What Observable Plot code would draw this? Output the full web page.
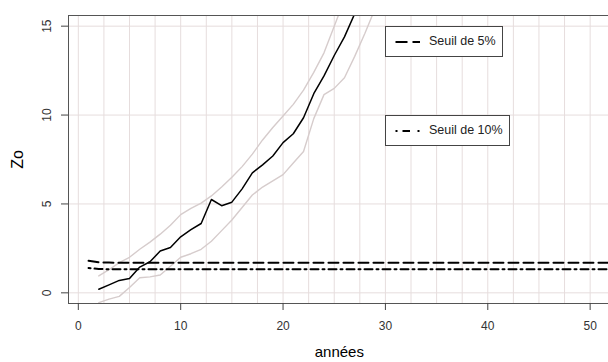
<!DOCTYPE html>
<html><head><meta charset="utf-8">
<script src="https://cdn.jsdelivr.net/npm/d3@7"></script>
<script src="https://cdn.jsdelivr.net/npm/@observablehq/plot@0.6"></script>
<style>
body{margin:0;background:#fff;}
#wrap{position:relative;width:608px;height:362px;overflow:hidden;font-family:"Liberation Sans",Arial,sans-serif;background:#fff;}
#wrap > svg{max-width:none !important;width:631px;height:362px;}
.leg{position:absolute;border:1px solid #444;background:#fff;box-sizing:border-box;font-size:12.5px;color:#222;height:31px;}
.leg svg{position:absolute;left:0;top:0;}
.leg span{position:absolute;top:7px;}
</style></head><body><div id="wrap"></div>
<script>
// Zo statistic (black) and its band (grey), by year
const anneesZo = [2,3,4,5,6,7,8,9,10,11,12,13,14,15,16,17,18,19,20,21,22,23,24,25,26,27,28];
const zo = [0.2,0.45,0.7,0.8,1.45,1.75,2.35,2.55,3.15,3.55,3.9,5.25,4.9,5.1,5.85,6.75,7.2,7.7,8.45,8.95,9.85,11.2,12.2,13.35,14.4,15.7,17.0];
const anneesHaut = [2,3,4,5,6,7,8,9,10,11,12,13,14,15,16,17,18,19,20,21,22,23,24,25,26];
const bandeHaut = [0.95,1.3,1.7,2.0,2.45,2.85,3.3,3.8,4.4,4.75,5.05,5.45,5.95,6.5,7.1,7.8,8.6,9.3,9.95,10.6,11.4,12.4,13.5,15.0,16.5];
const anneesBas = [2,3,4,5,6,7,8,9,10,11,12,13,14,15,16,17,18,19,20,21,22,23,24,25,26,27,28,29,30];
const bandeBas = [-0.55,-0.35,-0.2,0.3,0.85,0.9,1.0,1.5,2.0,2.2,2.45,2.9,3.5,4.1,4.8,5.5,5.95,6.3,6.65,7.3,7.95,9.8,11.15,11.5,12.1,13.3,14.6,16.0,17.2];
// thresholds, years 1..53
const anneesSeuil = [1,2,3,4,5,6,7,8,9,10,11,12,13,14,15,16,17,18,19,20,21,22,23,24,25,26,27,28,29,30,31,32,33,34,35,36,37,38,39,40,41,42,43,44,45,46,47,48,49,50,51,52,53];
const seuil5 = [1.80,1.72,1.70,1.69,1.69,1.69,1.69,1.69,1.69,1.69,1.69,1.69,1.69,1.69,1.69,1.69,1.69,1.69,1.69,1.69,1.69,1.69,1.69,1.69,1.69,1.69,1.69,1.69,1.69,1.69,1.69,1.69,1.69,1.69,1.69,1.69,1.69,1.69,1.69,1.69,1.69,1.69,1.69,1.69,1.69,1.69,1.69,1.69,1.69,1.69,1.69,1.69,1.69];
const seuil10 = [1.40,1.34,1.33,1.33,1.33,1.33,1.33,1.33,1.33,1.33,1.33,1.33,1.33,1.33,1.33,1.33,1.33,1.33,1.33,1.33,1.33,1.33,1.33,1.33,1.33,1.33,1.33,1.33,1.33,1.33,1.33,1.33,1.33,1.33,1.33,1.33,1.33,1.33,1.33,1.33,1.33,1.33,1.33,1.33,1.33,1.33,1.33,1.33,1.33,1.33,1.33,1.33,1.33];
// ticks and grid
const xTicks = [0,10,20,30,40,50];
const yTicks = [0,5,10,15];
const xGrid = [0,2.5,5,7.5,10,12.5,15,17.5,20,22.5,25,27.5,30,32.5,35,37.5,40,42.5,45,47.5,50,52.5];
const yGrid = [0,5,10,15];
const legendes = [
  {label:"Seuil de 5%", x:30, y:15, dash:"12,5", width:118},
  {label:"Seuil de 10%", x:30, y:10, dash:"2,5,7.5,7.5", width:125}
];

const zoData = anneesZo.map((a,i)=>({a, v:zo[i]}));
const hautData = anneesHaut.map((a,i)=>({a, v:bandeHaut[i]}));
const basData = anneesBas.map((a,i)=>({a, v:bandeBas[i]}));
const s5Data = anneesSeuil.map((a,i)=>({a, v:seuil5[i]}));
const s10Data = anneesSeuil.map((a,i)=>({a, v:seuil10[i]}));

const tickFont = {fontSize:12, fill:"#333", fontFamily:"Liberation Sans, Arial, sans-serif"};

const fig = Plot.plot({
  width: 631, height: 362,
  marginLeft: 68, marginRight: 0, marginTop: 15, marginBottom: 59,
  style: {fontFamily: "Liberation Sans, Arial, sans-serif", background: "#fff", overflow: "visible", maxWidth: "none"},
  x: {domain: [-0.96, 54.04], axis: null},
  y: {domain: [-0.6, 15.6], axis: null},
  marks: [
    Plot.gridX(xGrid, {stroke: "#e6dddd", strokeOpacity: 1, strokeWidth: 1}),
    Plot.gridY(yGrid, {stroke: "#e6dddd", strokeOpacity: 1, strokeWidth: 1}),
    Plot.line(hautData, {x:"a", y:"v", stroke:"#d6cccc", strokeWidth:1.4, clip:true}),
    Plot.line(basData, {x:"a", y:"v", stroke:"#d6cccc", strokeWidth:1.4, clip:true}),
    Plot.line(s5Data, {x:"a", y:"v", stroke:"#000", strokeWidth:2, strokeDasharray:"10,5", clip:true}),
    Plot.line(s10Data, {x:"a", y:"v", stroke:"#000", strokeWidth:2, strokeDasharray:"2,4,8,4", clip:true}),
    Plot.line(zoData, {x:"a", y:"v", stroke:"#000", strokeWidth:1.5, clip:true}),
    Plot.frame({stroke:"#555", strokeWidth:1}),
    Plot.axisX({ticks: xTicks, tickSize: 7, tickPadding: 11, label: null, stroke:"#444", fontSize: 12, fill:"#333", tickFormat: d=>String(d)}),
    Plot.axisY({ticks: yTicks, tickSize: 7, tickFormat: ()=>"", label: null, stroke:"#444"}),
    Plot.text(yTicks, {y: d=>d, text: d=>String(d), frameAnchor:"left", dx:-21, rotate:-90, textAnchor:"middle", lineAnchor:"middle", ...tickFont}),
    Plot.text(["années"], {text: d=>d, x: 25.5, frameAnchor:"bottom", dy: 49, lineAnchor:"middle", fontSize: 15, fill:"#000"}),
    Plot.text(["Zo"], {text: d=>d, frameAnchor:"left", dx: -51, rotate:-90, textAnchor:"middle", lineAnchor:"middle", fontSize: 16, fill:"#000"})
  ]
});
const wrap = document.getElementById("wrap");
wrap.appendChild(fig);
const sx = fig.scale("x"), sy = fig.scale("y");
for (const l of legendes) {
  const d = document.createElement("div");
  d.className = "leg";
  d.style.left = sx.apply(l.x) + "px";
  d.style.top = sy.apply(l.y) + "px";
  d.style.width = l.width + "px";
  d.innerHTML = `<svg width="${l.width}" height="31"><line x1="9.5" x2="34" y1="15" y2="15" stroke="#000" stroke-width="2" stroke-dasharray="${l.dash}"/></svg><span style="left:43px">${l.label}</span>`;
  wrap.appendChild(d);
}
</script></body></html>
